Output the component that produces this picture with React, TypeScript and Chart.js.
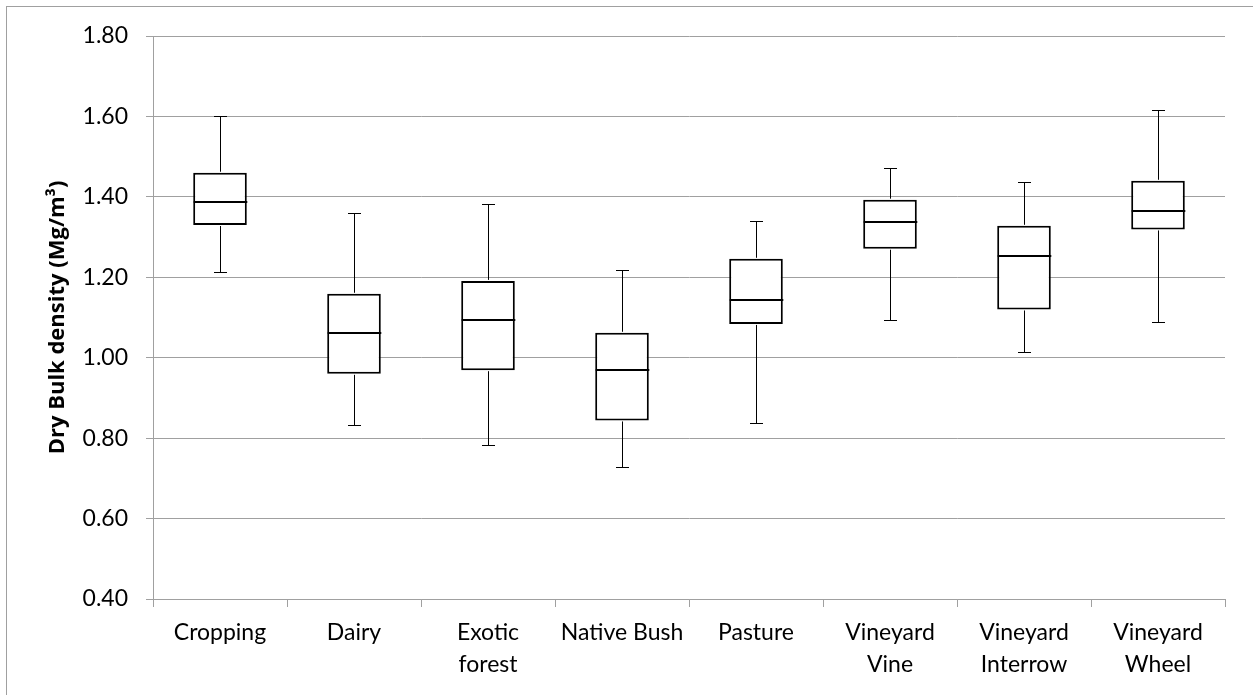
import React, { useEffect, useRef } from "react";
import { Chart, registerables } from "chart.js";

Chart.register(...registerables);

const categories: string[][] = [
  ["Cropping"],
  ["Dairy"],
  ["Exotic", "forest"],
  ["Native Bush"],
  ["Pasture"],
  ["Vineyard", "Vine"],
  ["Vineyard", "Interrow"],
  ["Vineyard", "Wheel"],
];
const whiskerMin = [1.212, 0.832, 0.784, 0.729, 0.838, 1.093, 1.014, 1.088];
const quartile1 = [1.33, 0.96, 0.969, 0.844, 1.084, 1.271, 1.12, 1.319];
const medians = [1.388, 1.061, 1.093, 0.969, 1.144, 1.337, 1.254, 1.364];
const quartile3 = [1.46, 1.159, 1.191, 1.062, 1.246, 1.393, 1.328, 1.44];
const whiskerMax = [1.6, 1.361, 1.381, 1.219, 1.34, 1.473, 1.437, 1.615];
const yMin = 0.4;
const yMax = 1.8;
const yStep = 0.2;
const yTitle = "Dry Bulk density (Mg/m³)";

const GRID = "#a0a0a0";
const FONT = "Lato, 'Open Sans', sans-serif";
const TITLE_FONT = "'Open Sans', Lato, sans-serif";

const boxPlugin = {
  id: "boxWhiskers",
  afterDatasetsDraw(chart: any) {
    const ctx = chart.ctx;
    const x = chart.scales.x;
    const y = chart.scales.y;
    const meta = chart.getDatasetMeta(0);
    ctx.save();
    ctx.strokeStyle = "#000";
    for (let i = 0; i < categories.length; i++) {
      const cx = Math.round(x.getPixelForValue(i)) + 0.5;
      const bar = meta.data[i];
      const w = bar ? bar.width : 50;
      const yq1 = y.getPixelForValue(quartile1[i]);
      const yq3 = y.getPixelForValue(quartile3[i]);
      const ylo = Math.round(y.getPixelForValue(whiskerMin[i])) + 0.5;
      const yhi = Math.round(y.getPixelForValue(whiskerMax[i])) + 0.5;
      const ymed = y.getPixelForValue(medians[i]);
      ctx.lineWidth = 1;
      ctx.beginPath();
      ctx.moveTo(cx, yq3 - 1);
      ctx.lineTo(cx, yhi);
      ctx.moveTo(cx - 6.5, yhi);
      ctx.lineTo(cx + 6.5, yhi);
      ctx.moveTo(cx, yq1 + 1);
      ctx.lineTo(cx, ylo);
      ctx.moveTo(cx - 6.5, ylo);
      ctx.lineTo(cx + 6.5, ylo);
      ctx.stroke();
      ctx.lineWidth = 2;
      ctx.beginPath();
      ctx.moveTo(cx - w / 2, Math.round(ymed));
      ctx.lineTo(cx + w / 2, Math.round(ymed));
      ctx.stroke();
    }
    ctx.restore();
  },
};

const framePlugin = {
  id: "outerFrame",
  beforeDraw(chart: any) {
    const ctx = chart.ctx;
    ctx.save();
    ctx.fillStyle = "#fff";
    ctx.fillRect(0, 0, chart.width, chart.height);
    ctx.strokeStyle = GRID;
    ctx.lineWidth = 1;
    ctx.strokeRect(6.5, 6.5, chart.width + 100, chart.height + 100);
    ctx.restore();
  },
};

export default function App() {
  const ref = useRef<HTMLCanvasElement>(null);
  useEffect(() => {
    if (!ref.current) return;
    const chart = new Chart(ref.current, {
      type: "bar",
      data: {
        labels: categories as any,
        datasets: [
          {
            label: "IQR",
            data: quartile1.map((q, i) => [q, quartile3[i]]) as any,
            backgroundColor: "#ffffff",
            borderColor: "#000000",
            borderWidth: 2,
            borderSkipped: false,
            barPercentage: 0.4,
            categoryPercentage: 1,
          },
        ],
      },
      options: {
        responsive: false,
        animation: false,
        devicePixelRatio: 1,
        layout: { padding: { left: 0, top: 36, right: 28, bottom: 0 } },
        plugins: { legend: { display: false }, tooltip: { enabled: false } },
        scales: {
          x: {
            offset: true,
            grid: {
              offset: true,
              drawOnChartArea: false,
              drawTicks: true,
              tickLength: 8,
              color: GRID,
            },
            border: { color: GRID, width: 1 },
            ticks: {
              color: "#000",
              padding: 10,
              maxRotation: 0,
              autoSkip: false,
              font: { family: FONT, size: 23, lineHeight: 1.39 },
            },
            afterFit: (s: any) => {
              s.height = 96;
            },
          },
          y: {
            min: yMin,
            max: yMax,
            grid: { color: GRID, drawTicks: true, tickLength: 7 },
            border: { color: GRID, width: 1 },
            ticks: {
              stepSize: yStep,
              color: "#000",
              padding: 18,
              font: { family: FONT, size: 23 },
              callback: (v: any) => Number(v).toFixed(2),
            },
            title: {
              display: true,
              text: yTitle,
              color: "#000",
              padding: { top: 45, bottom: 0 },
              font: { family: TITLE_FONT, size: 22, weight: "bold" },
            },
            afterFit: (s: any) => {
              s.width = 153;
            },
          },
        },
      },
      plugins: [framePlugin, boxPlugin],
    });
    return () => chart.destroy();
  }, []);
  return (
    <canvas
      ref={ref}
      width={1253}
      height={695}
      style={{ position: "absolute", left: 0, top: 0, width: 1253, height: 695 }}
    />
  );
}
